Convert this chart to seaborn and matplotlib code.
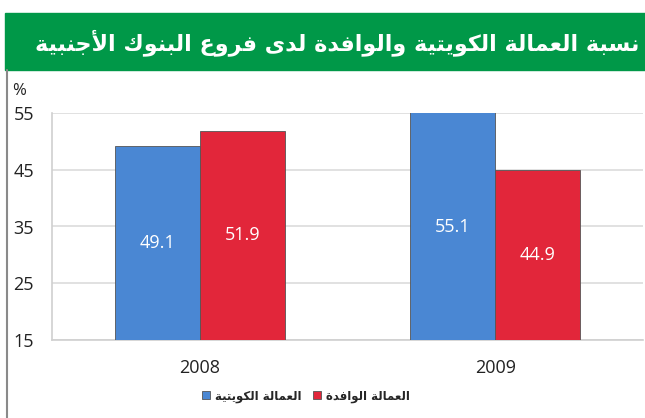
import matplotlib
matplotlib.use("Agg")
import matplotlib.pyplot as plt
import seaborn as sns
import pandas as pd
from matplotlib.patches import Rectangle
from matplotlib.lines import Line2D

# Data
years = ["2008", "2009"]
kuwaiti = [49.1, 55.1]
expat = [51.9, 44.9]
title_ar = "نسبة العمالة الكويتية والوافدة لدى فروع البنوك الأجنبية"
name_kuwaiti = "العمالة الكويتية"
name_expat = "العمالة الوافدة"
y_ticks = [15, 25, 35, 45, 55]

# minimal Arabic shaping (matplotlib has no shaping / bidi)
FORMS = {  # iso, fin, init, med (None -> right-joining)
    "ا": (0xFE8D, 0xFE8E, None, None), "أ": (0xFE83, 0xFE84, None, None),
    "ب": (0xFE8F, 0xFE90, 0xFE91, 0xFE92), "ة": (0xFE93, 0xFE94, None, None),
    "ت": (0xFE95, 0xFE96, 0xFE97, 0xFE98), "ج": (0xFE9D, 0xFE9E, 0xFE9F, 0xFEA0),
    "د": (0xFEA9, 0xFEAA, None, None), "ر": (0xFEAD, 0xFEAE, None, None),
    "س": (0xFEB1, 0xFEB2, 0xFEB3, 0xFEB4), "ع": (0xFEC9, 0xFECA, 0xFECB, 0xFECC),
    "ف": (0xFED1, 0xFED2, 0xFED3, 0xFED4), "ك": (0xFED9, 0xFEDA, 0xFEDB, 0xFEDC),
    "ل": (0xFEDD, 0xFEDE, 0xFEDF, 0xFEE0), "م": (0xFEE1, 0xFEE2, 0xFEE3, 0xFEE4),
    "ن": (0xFEE5, 0xFEE6, 0xFEE7, 0xFEE8), "و": (0xFEED, 0xFEEE, None, None),
    "ى": (0xFEEF, 0xFEF0, None, None), "ي": (0xFEF1, 0xFEF2, 0xFEF3, 0xFEF4),
    "لا": (0xFEFB, 0xFEFC, None, None), "لأ": (0xFEF7, 0xFEF8, None, None),
}


def shape(text):
    chars = []
    i = 0
    while i < len(text):
        if text[i] == "ل" and i + 1 < len(text) and text[i + 1] in "اأ":
            chars.append(text[i:i + 2])
            i += 2
        else:
            chars.append(text[i])
            i += 1
    out = []
    for k, c in enumerate(chars):
        if c not in FORMS:
            out.append(c)
            continue
        f = FORMS[c]
        prev = chars[k - 1] if k > 0 else None
        nxt = chars[k + 1] if k + 1 < len(chars) else None
        p = prev in FORMS and FORMS[prev][2] is not None
        n = nxt in FORMS and f[2] is not None
        if p and n:
            code = f[3]
        elif p:
            code = f[1]
        elif n:
            code = f[2]
        else:
            code = f[0]
        out.append(chr(code))
    return "".join(out)[::-1]


df = pd.DataFrame({
    "year": years * 2,
    "value": kuwaiti + expat,
    "series": [shape(name_kuwaiti)] * 2 + [shape(name_expat)] * 2,
})

sns.set_style("white")
plt.rcParams["font.family"] = ["Open Sans", "DejaVu Sans"]

fig = plt.figure(figsize=(6.45, 4.18), dpi=100)
ax = fig.add_axes([52 / 645, 1 - 340 / 418, 591 / 645, 227 / 418])

sns.barplot(data=df, x="year", y="value", hue="series",
            palette=["#4a87d3", "#e2263a"], width=0.575, ax=ax,
            edgecolor="#555555", linewidth=0.6, saturation=1, zorder=3)

ax.set_ylim(15, 55)
ax.set_xlim(-0.5, 1.5)
ax.set_yticks(y_ticks)
ax.grid(axis="y", color="#dcdcdc", linewidth=1.2, zorder=0)
ax.set_axisbelow(True)
for s in ["top", "right"]:
    ax.spines[s].set_visible(False)
for s in ["left", "bottom"]:
    ax.spines[s].set_color("#d0d0d0")
    ax.spines[s].set_linewidth(1.2)
ax.tick_params(axis="y", length=5, color="#d0d0d0", labelsize=13, pad=8, labelcolor="#222222")
ax.tick_params(axis="x", length=0, labelsize=13, pad=14, labelcolor="#222222")
ax.set_xlabel("")
ax.set_ylabel("")

# value labels in the middle of the visible bar
lo, hi = ax.get_ylim()
for container in ax.containers:
    for bar in container:
        v = bar.get_height()
        xc = bar.get_x() + bar.get_width() / 2
        ax.text(xc, (lo + min(v, hi)) / 2, f"{v:.1f}", ha="center", va="center",
                color="white", fontsize=13, zorder=5)

ax.text(-0.055, 1.06, "%", transform=ax.transAxes, ha="center", va="bottom",
        fontsize=12, color="#222222")

handles, labels = ax.get_legend_handles_labels()
ax.legend_.remove()
fig.legend(handles, labels, loc="center", bbox_to_anchor=(0.474, 1 - 396 / 418),
           ncol=2, frameon=False, handlelength=0.7, handleheight=0.7,
           handletextpad=0.4, columnspacing=1.0,
           prop={"family": "DejaVu Sans", "weight": "bold", "size": 8.5})

# green title band and left border
fig.patches.append(Rectangle((5 / 645, 1 - 70 / 418), 1, 57 / 418,
                             transform=fig.transFigure, color="#009848", zorder=0))
fig.lines.append(Line2D([7 / 645, 7 / 645], [0, 1 - 70 / 418], transform=fig.transFigure,
                        color="#8a8a8a", linewidth=1.5))
fig.text(0.992, 1 - 43 / 418, shape(title_ar), ha="right", va="center", color="white",
         fontsize=16, fontweight="bold", family="DejaVu Sans")

fig.savefig("out.png", dpi=100)
